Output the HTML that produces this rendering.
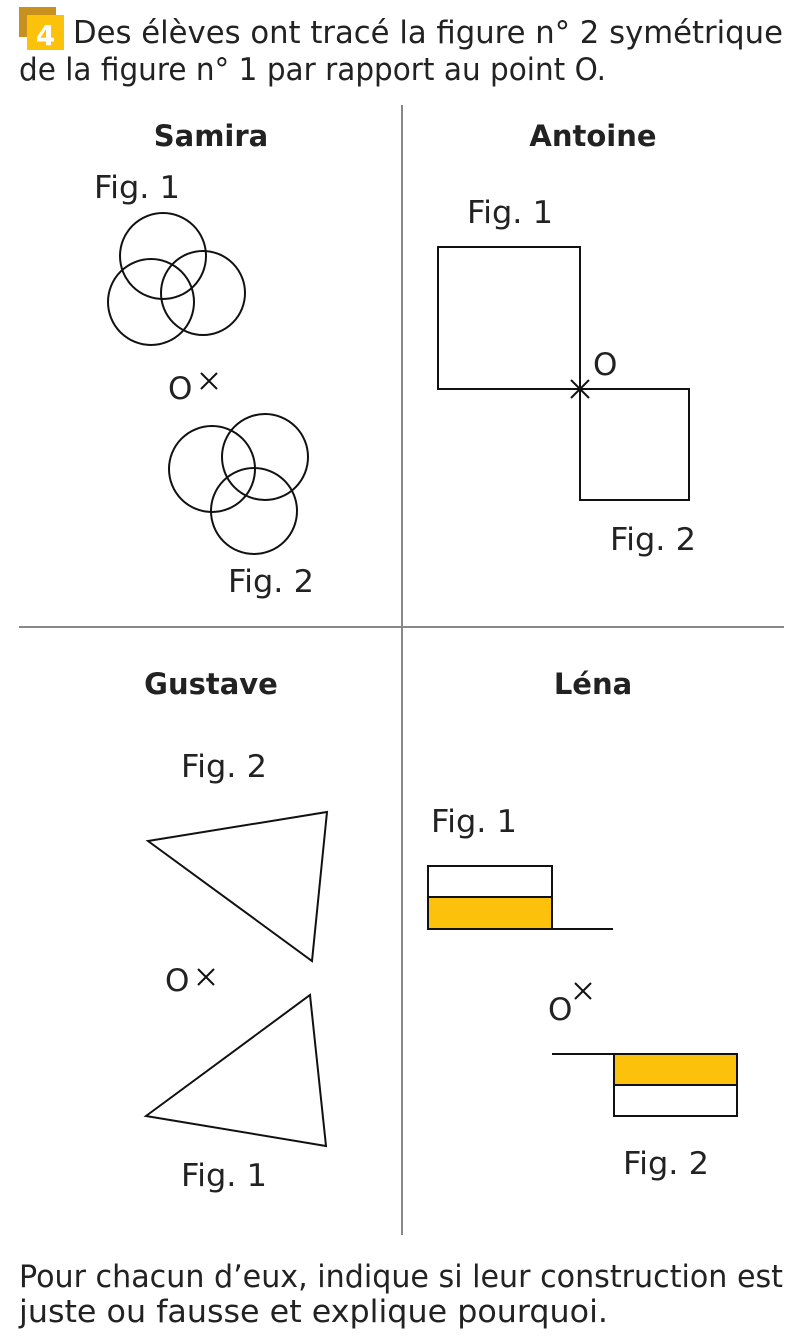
<!DOCTYPE html>
<html><head><meta charset="utf-8"><style>
body{margin:0;background:#fff;}
svg{display:block;font-family:"DejaVu Sans","Liberation Sans",sans-serif;}
</style></head><body>
<svg width="803" height="1344" viewBox="0 0 803 1344" xmlns="http://www.w3.org/2000/svg">
<rect x="19" y="7" width="37" height="30" fill="#c8901e"/>
<rect x="27" y="15" width="37" height="35" fill="#fcc10a"/>
<text x="45.5" y="45" font-size="28" font-weight="bold" fill="#fff" text-anchor="middle">4</text>
<g font-size="31" fill="#222">
<text x="73" y="43" textLength="710" lengthAdjust="spacingAndGlyphs">Des élèves ont tracé la figure n° 2 symétrique</text>
<text x="19" y="80" textLength="587" lengthAdjust="spacingAndGlyphs">de la figure n° 1 par rapport au point O.</text>
<text x="19" y="1287" textLength="764" lengthAdjust="spacingAndGlyphs">Pour chacun d’eux, indique si leur construction est</text>
<text x="19" y="1322" textLength="589" lengthAdjust="spacingAndGlyphs">juste ou fausse et explique pourquoi.</text>
</g>
<line x1="402" y1="105" x2="402" y2="1235" stroke="#888" stroke-width="2"/>
<line x1="19" y1="627" x2="784" y2="627" stroke="#888" stroke-width="2"/>
<g font-size="29" font-weight="bold" fill="#222" text-anchor="middle">
<text x="211" y="146">Samira</text>
<text x="593" y="146">Antoine</text>
<text x="211" y="694">Gustave</text>
<text x="593" y="694">Léna</text>
</g>
<g font-size="31" fill="#222">
<text x="94" y="198" textLength="86" lengthAdjust="spacingAndGlyphs">Fig. 1</text>
<text x="228" y="592" textLength="86" lengthAdjust="spacingAndGlyphs">Fig. 2</text>
<text x="467" y="223" textLength="86" lengthAdjust="spacingAndGlyphs">Fig. 1</text>
<text x="610" y="550" textLength="86" lengthAdjust="spacingAndGlyphs">Fig. 2</text>
<text x="181" y="777" textLength="86" lengthAdjust="spacingAndGlyphs">Fig. 2</text>
<text x="181" y="1186" textLength="86" lengthAdjust="spacingAndGlyphs">Fig. 1</text>
<text x="431" y="832" textLength="86" lengthAdjust="spacingAndGlyphs">Fig. 1</text>
<text x="623" y="1174" textLength="86" lengthAdjust="spacingAndGlyphs">Fig. 2</text>
<text x="168" y="399">O</text>
<text x="593" y="375">O</text>
<text x="165" y="991">O</text>
<text x="548" y="1020">O</text>
</g>
<g fill="none" stroke="#111" stroke-width="2">
<circle cx="163" cy="256" r="43"/>
<circle cx="151" cy="302" r="43"/>
<circle cx="203" cy="293" r="42"/>
<circle cx="212" cy="469" r="43"/>
<circle cx="265" cy="457" r="43"/>
<circle cx="254" cy="511" r="43"/>
<path d="M201 373l16 16M217 373l-16 16"/>
<path d="M198 969l16 16M214 969l-16 16"/>
<path d="M575 983l16 16M591 983l-16 16"/>
<rect x="438" y="247" width="142" height="142"/>
<rect x="580" y="389" width="109" height="111"/>
<path d="M571 380l18 18M589 380l-18 18"/>
<polygon points="148,841 327,812 312,961"/>
<polygon points="146,1116 310,995 326,1146"/>
</g>
<rect x="428" y="897" width="124" height="32" fill="#fcc10a"/>
<rect x="614" y="1054" width="123" height="31" fill="#fcc10a"/>
<g fill="none" stroke="#111" stroke-width="2">
<rect x="428" y="866" width="124" height="63"/>
<line x1="428" y1="897" x2="552" y2="897"/>
<line x1="552" y1="929" x2="613" y2="929"/>
<rect x="614" y="1054" width="123" height="62"/>
<line x1="614" y1="1085" x2="737" y2="1085"/>
<line x1="552" y1="1054" x2="614" y2="1054"/>
</g>
</svg>
</body></html>
